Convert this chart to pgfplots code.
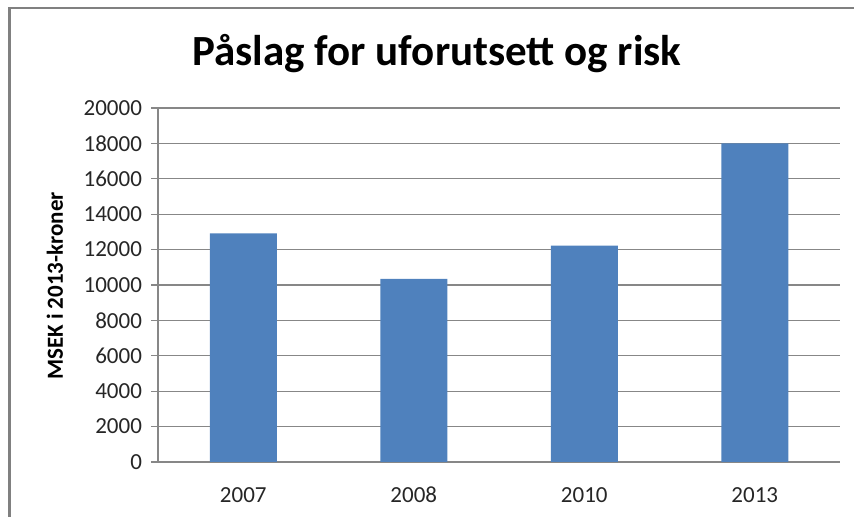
\documentclass[border=0pt]{standalone}
\usepackage{pgfplots}
\pgfplotsset{compat=1.18}
\usepackage{fontspec}
\setmainfont{Carlito}
\definecolor{barblue}{HTML}{4F81BD}
\definecolor{gridgray}{HTML}{878787}
\definecolor{framegray}{HTML}{808080}
\begin{document}
\begin{tikzpicture}[x=1pt,y=1pt]
\useasboundingbox (0,0) rectangle (427,258.5);
\draw[framegray, line width=1.3pt] (4.75,-2) -- (4.75,254.5) -- (430,254.5);
\begin{axis}[
  at={(79pt,27.5pt)}, anchor=south west,
  scale only axis, width=341pt, height=177pt,
  xmin=-0.5, xmax=3.5, ymin=0, ymax=20000,
  xtick={0,1,2,3}, xticklabels={2007,2008,2010,2013},
  ytick={0,2000,...,20000},
  /pgf/number format/1000 sep={},
  /pgf/number format/assume math mode=true,
  scaled y ticks=false,
  ymajorgrids, grid style={gridgray, line width=0.6pt},
  axis x line*=bottom, axis y line*=left,
  axis line style={gridgray, line width=0.6pt},
  x axis line style={-}, y axis line style={-},
  xtick style={draw=none},
  ytick style={gridgray, line width=0.6pt},
  major tick length=3.5pt, tick align=outside,
  ticklabel style={font=\fontsize{11.5}{13}\selectfont, text=black!85},
  yticklabel style={xshift=-1pt},
  xticklabel style={yshift=-5pt, text height=8pt, text depth=0pt},
]
\addplot[ybar, bar width=0.393, fill=barblue, draw=none] coordinates {(0,12920) (1,10340) (2,12230) (3,18000)};
\end{axis}
\node[rotate=90, font=\fontsize{11.5}{13}\selectfont\bfseries] at (27.5,115.5) {MSEK i 2013-kroner};
\node[font=\fontsize{21.5}{25}\selectfont\bfseries, anchor=base] at (218.5,225.5) {Påslag for uforutsett og risk};
\end{tikzpicture}
\end{document}
